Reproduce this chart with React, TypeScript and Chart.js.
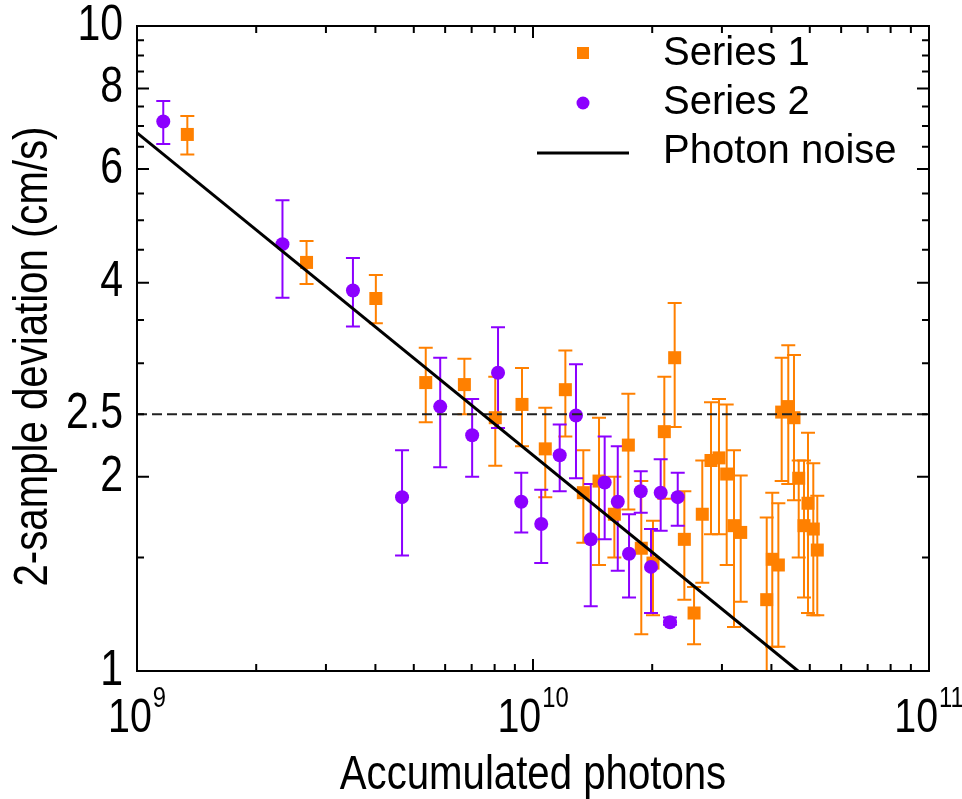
import React, { useEffect, useRef } from 'react';
import { Chart, registerables } from 'chart.js';

Chart.register(...registerables);

// ---------------- data ----------------
const series1X = [1.34e9, 2.68e9, 4.01e9, 5.36e9, 6.71e9, 8.03e9, 9.38e9, 10.74e9, 12.07e9, 13.4e9, 14.68e9, 16.05e9, 17.41e9, 18.77e9, 20.09e9, 21.46e9, 22.79e9, 24.11e9, 25.51e9, 26.76e9, 28.15e9, 29.49e9, 30.84e9, 32.18e9, 33.46e9, 38.92e9, 40.2e9, 41.65e9, 42.46e9, 44.12e9, 45.61e9, 46.88e9, 48.34e9, 49.48e9, 51.03e9, 52.23e9];
const series1Y = [6.79, 4.3, 3.78, 2.8, 2.78, 2.47, 2.59, 2.21, 2.73, 1.89, 1.97, 1.75, 2.24, 1.55, 1.47, 2.35, 3.06, 1.6, 1.23, 1.75, 2.12, 2.14, 2.02, 1.68, 1.64, 1.29, 1.49, 1.46, 2.52, 2.57, 2.47, 1.99, 1.68, 1.82, 1.66, 1.54];
const series1Hi = [7.25, 4.64, 4.11, 3.17, 3.05, 2.86, 2.95, 2.56, 3.14, 2.2, 2.47, 2.0, 2.69, 1.97, 1.71, 2.86, 3.72, 1.9, 1.35, 2.12, 2.61, 2.64, 2.59, 2.2, 2.01, 1.73, 1.89, 1.82, 3.06, 3.2, 3.09, 2.12, 2.12, 2.34, 2.1, 1.87];
const series1Lo = [6.32, 3.98, 3.46, 2.43, 2.5, 2.08, 2.23, 1.86, 2.31, 1.58, 1.46, 1.5, 1.78, 1.14, 1.22, 1.85, 2.39, 1.29, 1.1, 1.37, 1.63, 1.63, 1.46, 1.17, 1.28, 0.95, 1.09, 1.09, 1.97, 1.95, 1.84, 1.5, 1.3, 1.23, 1.22, 1.22];

const series2X = [1.165e9, 2.33e9, 3.51e9, 4.67e9, 5.83e9, 7.02e9, 8.16e9, 9.34e9, 10.49e9, 11.68e9, 12.84e9, 13.99e9, 15.17e9, 16.37e9, 17.48e9, 18.71e9, 19.86e9, 21.01e9, 22.18e9, 23.2e9];
const series2Y = [7.11, 4.59, 3.89, 1.86, 2.57, 2.32, 2.9, 1.83, 1.69, 2.16, 2.49, 1.6, 1.96, 1.83, 1.52, 1.9, 1.45, 1.89, 1.19, 1.86];
const series2Hi = [7.65, 5.37, 4.37, 2.2, 3.06, 2.64, 3.41, 2.03, 1.91, 2.41, 2.99, 1.95, 2.31, 2.23, 1.75, 2.04, 1.66, 2.13, 1.21, 2.03];
const series2Lo = [6.56, 3.79, 3.42, 1.51, 2.07, 2.0, 2.38, 1.64, 1.47, 1.9, 1.99, 1.26, 1.6, 1.43, 1.3, 1.76, 1.23, 1.65, 1.18, 1.68];

const photonNoiseX = [1e9, 4.67e10];
const photonNoiseY = [6.83, 1.0];
const thresholdX = [1e9, 1e11];
const thresholdY = [2.5, 2.5];

const yTickLabels = [1, 2, 2.5, 4, 6, 8, 10];
const yMajorTicks = [1, 2, 4, 6, 8, 10];
const yMinorTicks = [1.5, 2.5, 3, 3.5, 4.5, 5, 5.5, 6.5, 7, 7.5, 8.5, 9, 9.5];
const xMajorTicks = [1e9, 1e10, 1e11];
const xTickExponents = ['9', '10', '11'];
const xMinorMultipliers = [2, 3, 4, 5, 6, 7, 8, 9];

const xTitle = 'Accumulated photons';
const yTitle = '2-sample deviation (cm/s)';
const legendLabels = ['Series 1', 'Series 2', 'Photon noise'];

const ORANGE = '#ff8000';
const PURPLE = '#8c00ff';
const FONT = '"Liberation Sans", Arial, sans-serif';
const NARROW = 0.82; // horizontal compression emulating a narrow sans face

function condensedText(
  ctx: CanvasRenderingContext2D,
  text: string,
  x: number,
  y: number,
  size: number,
  align: CanvasTextAlign,
  baseline: CanvasTextBaseline,
  rotate = 0
) {
  ctx.save();
  ctx.translate(x, y);
  if (rotate) ctx.rotate(rotate);
  ctx.scale(NARROW, 1);
  ctx.font = `${size}px ${FONT}`;
  ctx.textAlign = align;
  ctx.textBaseline = baseline;
  ctx.fillText(text, 0, 0);
  ctx.restore();
}

const extrasPlugin = {
  id: 'extras',
  beforeDatasetsDraw(chart: any) {
    const { ctx, chartArea, scales } = chart;
    const xs = scales.x;
    const ys = scales.y;
    ctx.save();
    ctx.beginPath();
    ctx.rect(chartArea.left, chartArea.top, chartArea.right - chartArea.left, chartArea.bottom - chartArea.top);
    ctx.clip();
    const drawBars = (X: number[], Hi: number[], Lo: number[], color: string) => {
      ctx.strokeStyle = color;
      ctx.lineWidth = 2;
      const cap = 7;
      for (let i = 0; i < X.length; i++) {
        const px = xs.getPixelForValue(X[i]);
        const ph = ys.getPixelForValue(Hi[i]);
        const pl = ys.getPixelForValue(Lo[i]);
        ctx.beginPath();
        ctx.moveTo(px, ph);
        ctx.lineTo(px, pl);
        ctx.moveTo(px - cap, ph);
        ctx.lineTo(px + cap, ph);
        ctx.moveTo(px - cap, pl);
        ctx.lineTo(px + cap, pl);
        ctx.stroke();
      }
    };
    drawBars(series1X, series1Hi, series1Lo, ORANGE);
    drawBars(series2X, series2Hi, series2Lo, PURPLE);
    ctx.restore();
  },
  afterDraw(chart: any) {
    const { ctx, chartArea, scales } = chart;
    const xs = scales.x;
    const ys = scales.y;
    const { left, right, top, bottom } = chartArea;
    ctx.save();
    ctx.strokeStyle = '#000';
    ctx.lineWidth = 2;
    ctx.strokeRect(left, top, right - left, bottom - top);

    const major = 12;
    const minor = 7;
    ctx.beginPath();
    const xTick = (v: number, len: number) => {
      const p = xs.getPixelForValue(v);
      ctx.moveTo(p, bottom);
      ctx.lineTo(p, bottom - len);
      ctx.moveTo(p, top);
      ctx.lineTo(p, top + len);
    };
    xMajorTicks.forEach((v) => xTick(v, major));
    for (let d = 0; d < xMajorTicks.length - 1; d++) {
      xMinorMultipliers.forEach((m) => xTick(xMajorTicks[d] * m, minor));
    }
    const yTick = (v: number, len: number) => {
      const p = ys.getPixelForValue(v);
      ctx.moveTo(left, p);
      ctx.lineTo(left + len, p);
      ctx.moveTo(right, p);
      ctx.lineTo(right - len, p);
    };
    yMajorTicks.forEach((v) => yTick(v, major));
    yMinorTicks.forEach((v) => yTick(v, minor));
    ctx.stroke();

    ctx.fillStyle = '#000';

    // y tick labels
    yTickLabels.forEach((v) => {
      condensedText(ctx, String(v), left - 14, ys.getPixelForValue(v), 50, 'right', 'middle');
    });

    // x tick labels with superscript exponents
    xMajorTicks.forEach((v, i) => {
      const p = xs.getPixelForValue(v);
      ctx.font = `48px ${FONT}`;
      const w1 = ctx.measureText('10').width * NARROW;
      ctx.font = `29px ${FONT}`;
      const w2 = ctx.measureText(xTickExponents[i]).width * NARROW;
      const start = p - (w1 + w2 + 1) / 2;
      condensedText(ctx, '10', start, 732, 48, 'left', 'alphabetic');
      condensedText(ctx, xTickExponents[i], start + w1 + 1, 707, 29, 'left', 'alphabetic');
    });

    // axis titles
    condensedText(ctx, xTitle, (left + right) / 2, 775, 49, 'center', 'middle');
    condensedText(ctx, yTitle, 33, (top + bottom) / 2 + 8, 49, 'center', 'middle', -Math.PI / 2);

    // legend
    const legendTextX = 663;
    const rows = [54, 103, 152];
    ctx.fillStyle = ORANGE;
    ctx.fillRect(583 - 6, 53 - 6, 12, 12);
    ctx.fillStyle = PURPLE;
    ctx.beginPath();
    ctx.arc(583, 103, 6.5, 0, Math.PI * 2);
    ctx.fill();
    ctx.strokeStyle = '#000';
    ctx.lineWidth = 3;
    ctx.beginPath();
    ctx.moveTo(537, 153);
    ctx.lineTo(629, 153);
    ctx.stroke();
    ctx.fillStyle = '#000';
    ctx.font = `40px ${FONT}`;
    ctx.textAlign = 'left';
    ctx.textBaseline = 'middle';
    legendLabels.forEach((t, i) => ctx.fillText(t, legendTextX, rows[i]));
    ctx.restore();
  },
};

export default function App() {
  const ref = useRef<HTMLCanvasElement | null>(null);
  useEffect(() => {
    document.body.style.margin = '0';
    const canvas = ref.current;
    if (!canvas) return;
    const toPts = (X: number[], Y: number[]) => X.map((x, i) => ({ x, y: Y[i] }));
    const chart = new Chart(canvas, {
      type: 'scatter',
      data: {
        datasets: [
          {
            label: 'Photon noise',
            data: toPts(photonNoiseX, photonNoiseY),
            showLine: true,
            borderColor: '#000',
            borderWidth: 3,
            pointRadius: 0,
          },
          {
            label: 'threshold',
            data: toPts(thresholdX, thresholdY),
            showLine: true,
            borderColor: '#222',
            borderWidth: 2,
            borderDash: [10, 5],
            pointRadius: 0,
          },
          {
            label: 'Series 2',
            data: toPts(series2X, series2Y),
            pointStyle: 'circle',
            pointRadius: 7,
            backgroundColor: PURPLE,
            borderWidth: 0,
          },
          {
            label: 'Series 1',
            data: toPts(series1X, series1Y),
            pointStyle: 'rect',
            pointRadius: 9.2,
            backgroundColor: ORANGE,
            borderWidth: 0,
          },
        ],
      } as any,
      options: {
        responsive: false,
        animation: false,
        events: [],
        layout: { padding: { top: 26, right: 33, left: 0, bottom: 0 } },
        plugins: { legend: { display: false }, tooltip: { enabled: false } },
        scales: {
          x: {
            type: 'logarithmic',
            min: 1e9,
            max: 1e11,
            grid: { display: false },
            border: { display: false },
            ticks: { display: false },
            title: { display: false, text: xTitle },
            afterFit: (s: any) => {
              s.height = 128;
            },
          },
          y: {
            type: 'logarithmic',
            min: 1,
            max: 10,
            grid: { display: false },
            border: { display: false },
            afterBuildTicks: (s: any) => {
              s.ticks = yTickLabels.map((v) => ({ value: v }));
            },
            ticks: { display: false },
            title: { display: false, text: yTitle },
            afterFit: (s: any) => {
              s.width = 137;
            },
          },
        },
      } as any,
      plugins: [extrasPlugin],
    });
    return () => chart.destroy();
  }, []);
  return (
    <div style={{ width: 962, height: 799, background: '#fff' }}>
      <canvas ref={ref} width={962} height={799} style={{ display: 'block' }} />
    </div>
  );
}
